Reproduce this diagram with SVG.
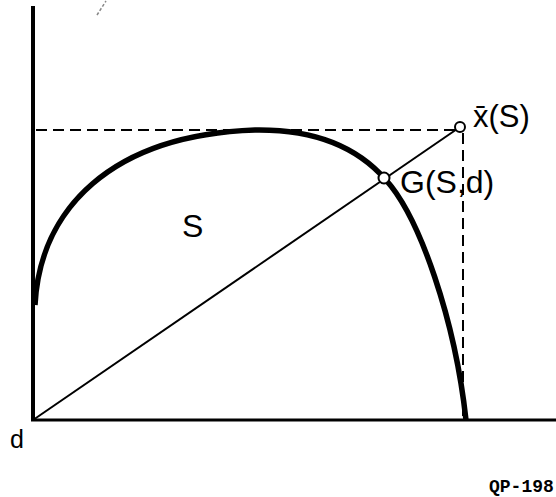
<svg xmlns="http://www.w3.org/2000/svg" width="556" height="497" viewBox="0 0 556 497">
<style>
.lbl{font-family:"Liberation Sans",Arial,sans-serif;fill:#000}
.axis{stroke:#000;fill:none;stroke-linecap:butt}
.dash{stroke:#000;fill:none;stroke-width:2;stroke-dasharray:11 6}
.pt{fill:#fff;stroke:#000;stroke-width:2}
</style>
<rect width="556" height="497" fill="#fff"/>
<g id="axes">
<line class="axis" x1="33" y1="6" x2="33" y2="421" stroke-width="4"/>
<line class="axis" x1="31" y1="420" x2="556" y2="420" stroke-width="3"/>
</g>
<path d="M97,15 L106,1" stroke="#888" stroke-width="1.5" stroke-dasharray="3 2" fill="none"/>
<g id="connectors">
<line class="dash" x1="36" y1="130" x2="455" y2="130"/>
<line class="dash" x1="463" y1="133" x2="463" y2="418" stroke-dasharray="8 4"/>
<line x1="33" y1="420" x2="460" y2="127" stroke="#000" stroke-width="2"/>
</g>
<g id="set-S">
<path d="M35,305 C40,210 110,135 255,130 C320,129 360,150 386,180 C420,218 455,320 466,420" fill="none" stroke="#000" stroke-width="5.5"/>
<text class="lbl" x="182" y="237" font-size="32">S</text>
</g>
<g id="point-x">
<circle class="pt" cx="460" cy="127" r="5"/>
<text class="lbl" x="473" y="127" font-size="31">x̄(S)</text>
</g>
<g id="point-G">
<circle class="pt" cx="384" cy="178" r="5.5"/>
<text class="lbl" x="400" y="193" font-size="32">G(S,d)</text>
</g>
<g id="point-d">
<text class="lbl" x="10" y="448" font-size="25">d</text>
</g>
<text x="489" y="492" font-family="Liberation Mono,Courier New,monospace" font-weight="bold" font-size="18">QP-198</text>
</svg>
